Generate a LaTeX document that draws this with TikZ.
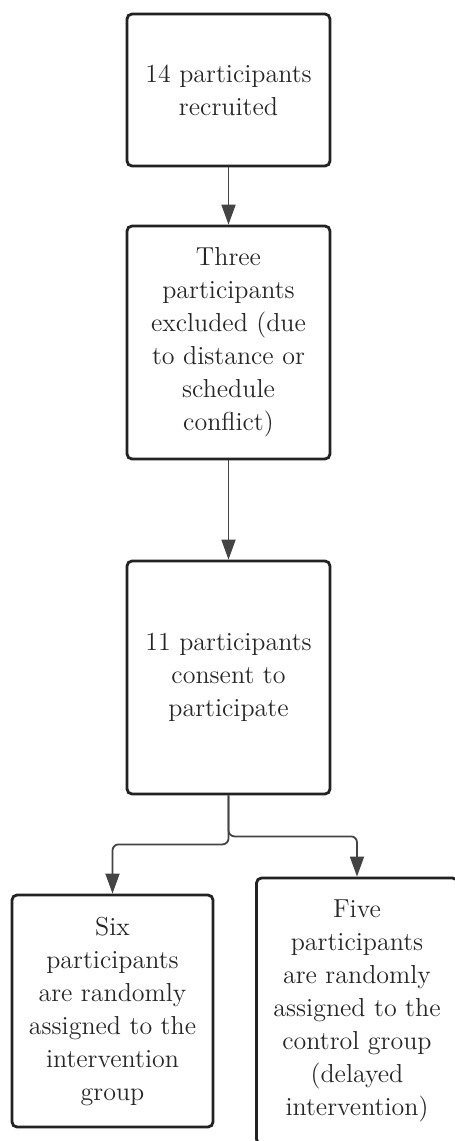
\documentclass[tikz,border=0pt]{standalone}
\usepackage{xcolor}
\usepackage{tikz}
\usetikzlibrary{arrows.meta}
\usetikzlibrary{positioning}

\definecolor{boxline}{HTML}{222222}
\definecolor{linkline}{HTML}{444444}
\definecolor{boxtext}{HTML}{262626}

\begin{document}
\begin{tikzpicture}[on grid, >={Triangle[length=10pt,width=7pt]},
    box/.style={draw=boxline, line width=1.4pt, rounded corners=2.5pt, align=center,
      text=boxtext, font=\fontsize{13}{16.5}\selectfont, inner sep=0pt},
    link/.style={->, draw=linkline, line width=0.9pt, rounded corners=3pt}]
      \useasboundingbox (0,0) rectangle (227.5pt,-570.5pt);
      \node[box, minimum width=101.5pt, minimum height=76pt]    (b1) at (114.25pt,-45pt) {14 participants\\recruited};
      \node[box, minimum width=101.5pt, minimum height=116.5pt] (b2) [below=126.25pt of b1] {Three\\participants\\excluded (due\\to distance or\\schedule\\conflict)};
      \node[box, minimum width=101.5pt, minimum height=116.5pt] (b3) [below=167.5pt of b2] {11 participants\\consent to\\participate};
      \node[box, minimum width=100.5pt, minimum height=116pt]   (b4) [below left=166.75pt and 58pt of b3] {Six\\participants\\are randomly\\assigned to the\\intervention\\group};
      % taller box, runs past the bottom edge
      \node[box, minimum width=100.5pt, minimum height=133pt]   (b5) [right=122.25pt of b4] {Five\\participants\\are randomly\\assigned to the\\control group\\(delayed\\intervention)};
      \draw[link] (b1) -- (b2);
      \draw[link] (b2) -- (b3);
      \draw[link] (b3.south) -- ++(0,-24.5pt) -| (b4.north);
      \draw[link] (b3.south) -- ++(0,-20.5pt) -| (b5.north);
    \end{tikzpicture}
\end{document}
